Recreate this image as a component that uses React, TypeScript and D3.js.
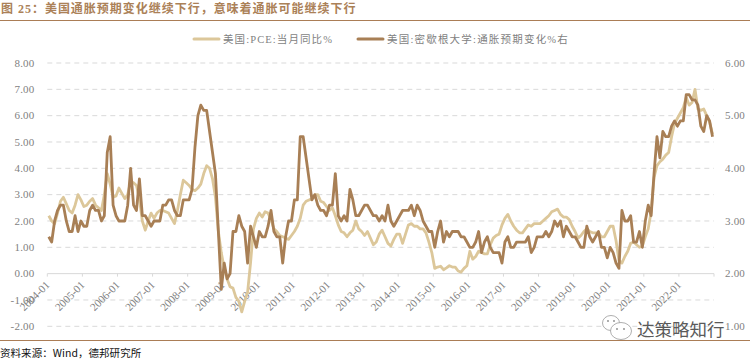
import React from "react";
import * as d3 from "d3";

const title = "图 25\uFF1A美国通胀预期变化继续下行\uFF0C意味着通胀可能继续下行";
const source = "资料来源\uFF1AWind\uFF0C德邦研究所";
const legendPce = "美国:PCE:当月同比%";
const legendMich = "美国:密歇根大学:通胀预期变化%右";
const watermark = "达策略知行";
const yearLabels = ["2004-01","2005-01","2006-01","2007-01","2008-01","2009-01","2010-01","2011-01","2012-01","2013-01","2014-01","2015-01","2016-01","2017-01","2018-01","2019-01","2020-01","2021-01","2022-01"];
const leftTicks = [8,7,6,5,4,3,2,1,0,-1,-2];
const rightTicks = [6,5,4,3,2,1];

// PCE, monthly, left axis
const pce = [
  2.2,2.0,1.9,2.3,2.75,2.9,2.65,2.4,2.3,2.6,3.0,2.8,
  2.55,2.6,2.75,2.85,2.6,2.5,2.4,3.0,3.8,3.4,2.9,2.95,
  3.25,3.05,2.85,3.0,3.5,3.45,3.35,2.85,2.0,1.65,2.0,2.3,
  2.1,2.3,2.4,2.4,2.35,2.3,2.1,1.9,2.4,3.0,3.55,3.45,
  3.35,3.2,3.15,3.25,3.4,3.8,4.1,4.0,3.6,2.9,1.6,0.8,
  0.2,-0.2,-0.5,-0.55,-0.9,-1.05,-1.45,-1.05,-0.7,0.4,1.7,2.1,
  2.3,2.15,2.35,2.3,2.05,1.7,1.6,1.45,1.4,1.35,1.3,1.45,
  1.6,1.8,2.1,2.6,2.75,2.8,2.85,3.0,3.0,2.75,2.7,2.55,
  2.4,2.5,2.2,1.85,1.6,1.55,1.4,1.55,1.65,2.0,1.7,1.6,
  1.45,1.6,1.35,1.1,1.2,1.5,1.65,1.4,1.15,1.05,1.3,1.5,
  1.5,1.15,1.5,1.85,1.9,1.8,1.8,1.7,1.7,1.55,1.2,0.8,
  0.2,0.25,0.28,0.15,0.22,0.3,0.25,0.25,0.1,0.06,0.2,0.3,
  0.85,0.55,0.65,0.85,0.8,0.75,0.75,1.1,1.35,1.45,1.5,1.85,
  2.1,2.25,2.0,1.8,1.65,1.55,1.55,1.7,1.85,1.8,1.9,1.9,
  1.9,2.0,2.1,2.2,2.35,2.4,2.45,2.25,2.15,2.15,2.05,1.8,
  1.6,1.35,1.45,1.6,1.7,1.6,1.55,1.55,1.55,1.4,1.4,1.6,
  1.8,1.8,1.25,0.5,0.4,0.65,0.85,1.15,1.2,1.1,1.0,1.05,
  1.4,1.7,2.35,3.65,4.1,4.25,4.35,4.5,4.6,5.2,5.7,5.9,
  6.1,6.3,6.7,6.4,6.5,7.0,6.25,6.2,6.25,6.0,5.75,5.3,
];

// Michigan inflation expectation change, monthly, right axis
const michigan = [
  2.7,2.6,3.0,3.2,3.3,3.3,3.0,2.8,2.8,3.1,2.8,3.0,
  2.9,2.9,3.2,3.3,3.2,3.2,3.0,3.1,4.3,4.6,3.3,3.1,
  3.0,3.0,3.0,3.3,4.0,3.3,3.2,3.8,3.1,3.1,3.0,2.9,
  3.0,3.0,3.0,3.3,3.3,3.4,3.4,3.2,3.1,3.1,3.4,3.4,
  3.4,3.6,4.4,5.0,5.2,5.1,5.1,4.7,4.3,3.9,2.8,1.7,
  2.2,1.9,2.0,2.8,2.8,3.1,2.9,2.8,2.2,2.9,2.7,2.5,
  2.8,2.7,2.7,2.9,3.2,2.8,2.7,2.7,2.2,2.7,3.0,3.0,
  3.4,3.4,4.6,4.6,4.2,3.8,3.4,3.5,3.3,3.2,3.2,3.1,
  3.3,3.3,3.9,3.1,3.0,3.1,3.0,3.6,3.4,3.1,3.1,3.2,
  3.3,3.3,3.2,3.1,3.1,3.0,3.1,3.0,3.3,3.0,2.9,3.0,
  3.1,3.2,3.2,3.2,3.3,3.1,3.3,3.2,3.0,2.9,2.8,2.8,
  2.5,2.8,3.0,2.6,2.8,2.7,2.8,2.8,2.8,2.7,2.7,2.6,
  2.5,2.5,2.6,2.8,2.4,2.6,2.7,2.5,2.4,2.4,2.4,2.2,
  2.6,2.7,2.5,2.5,2.6,2.6,2.6,2.6,2.7,2.4,2.5,2.7,
  2.7,2.7,2.8,2.7,2.8,3.0,2.9,3.0,2.7,2.9,2.8,2.7,
  2.7,2.6,2.5,2.5,2.9,2.7,2.6,2.7,2.8,2.5,2.5,2.3,
  2.5,2.4,2.2,2.1,3.2,3.0,3.0,3.1,2.6,2.6,2.8,2.5,
  3.0,3.3,3.1,3.9,4.6,4.2,4.7,4.6,4.6,4.8,4.9,4.8,
  4.9,4.9,5.4,5.4,5.3,5.3,5.2,4.8,4.7,5.0,4.9,4.6,
];

const BROWN = "#a87f55";
const TAN = "#dcc79a";
const RULE = "#ab7d56";
const GRID = "#d9d9d9";
const LABEL = "#7f7f7f";
const SERIF = "'Liberation Serif', serif";
const MIXED = "'Liberation Serif', 'Noto Sans CJK SC', serif";
const CJK = "'Noto Sans CJK SC', sans-serif";

export default function App() {
  const W = 750, H = 361;
  const plotL = 47.3, plotR = 714, plotT = 63, plotB = 326.3;
  const x = d3.scaleLinear().domain([0, pce.length]).range([plotL, plotR]);
  const yL = d3.scaleLinear().domain([-2, 8]).range([plotB, plotT]);
  const yR = d3.scaleLinear().domain([1, 6]).range([plotB, plotT]);
  const linePce = d3.line<number>().x((_, i) => x(i + 0.5)).y((d) => yL(d)).curve(d3.curveLinear);
  const lineMich = d3.line<number>().x((_, i) => x(i + 0.5)).y((d) => yR(d)).curve(d3.curveLinear);
  const y0 = yL(0);

  return (
    <svg width={W} height={H} viewBox={`0 0 ${W} ${H}`} style={{ position: "absolute", left: 0, top: 0, background: "#fff" }}>
      <text x={1} y={13} fontFamily={MIXED} fontWeight={700} fontSize={12} letterSpacing={0.98} fill="#ab8158">{title}</text>
      <line x1={0} x2={W} y1={20.5} y2={20.5} stroke={RULE} strokeWidth={1} />
      <line x1={0} x2={W} y1={340.5} y2={340.5} stroke={RULE} strokeWidth={1} />
      <text x={0} y={357} fontFamily={CJK} fontSize={10.5} letterSpacing={0.05} fill="#111">{source}</text>

      {/* legend */}
      <line x1={194} x2={219} y1={39} y2={39} stroke={TAN} strokeWidth={3} strokeLinecap="round" />
      <text x={223} y={43} fontFamily={MIXED} fontSize={10.5} letterSpacing={1.1} fill={LABEL}>{legendPce}</text>
      <line x1={358} x2={383} y1={39} y2={39} stroke={BROWN} strokeWidth={3} strokeLinecap="round" />
      <text x={387} y={43} fontFamily={MIXED} fontSize={10.5} letterSpacing={1.2} fill={LABEL}>{legendMich}</text>

      {/* grid */}
      {leftTicks.filter((t) => t !== 0).map((t) => (
        <line key={t} x1={plotL} x2={plotR} y1={yL(t)} y2={yL(t)} stroke={GRID} strokeWidth={1} strokeDasharray="5 4" />
      ))}
      <line x1={plotL} x2={plotR} y1={y0} y2={y0} stroke={GRID} strokeWidth={1} />
      {yearLabels.map((_, k) => (
        <line key={k} x1={x(k * 12)} x2={x(k * 12)} y1={y0} y2={y0 + 3} stroke={GRID} />
      ))}
      <line x1={plotR} x2={plotR} y1={y0} y2={y0 + 3} stroke={GRID} />

      {/* axis labels */}
      {leftTicks.map((t) => (
        <text key={t} x={34.5} y={yL(t) + 3.7} textAnchor="end" fontFamily={SERIF} fontSize={11} letterSpacing={0.2} fill={LABEL}>{t.toFixed(2)}</text>
      ))}
      {rightTicks.map((t) => (
        <text key={t} x={725} y={yR(t) + 3.7} fontFamily={SERIF} fontSize={11} letterSpacing={0.2} fill={LABEL}>{t.toFixed(2)}</text>
      ))}
      {yearLabels.map((l, k) => (
        <text key={l} transform={`translate(${x(k * 12) + 3},${y0 + 12}) rotate(-45)`} textAnchor="end" fontFamily={SERIF} fontSize={11} fill={LABEL}>{l}</text>
      ))}

      {/* series */}
      <path d={linePce(pce) ?? ""} fill="none" stroke={TAN} strokeWidth={2.8} strokeLinejoin="round" />
      <path d={lineMich(michigan) ?? ""} fill="none" stroke={BROWN} strokeWidth={2.8} strokeLinejoin="round" />

      {/* watermark */}
      <g fill="none" stroke="#9a9a9a" strokeWidth={0.8}>
        <ellipse cx={611} cy={323} rx={8.5} ry={7.5} fill="#fff" />
        <ellipse cx={621} cy={331} rx={10.5} ry={8.5} fill="#fff" />
        <circle cx={617} cy={329} r={0.9} fill="#888" stroke="none" />
        <circle cx={624} cy={329} r={0.9} fill="#888" stroke="none" />
        <circle cx={608} cy={321} r={0.9} fill="#888" stroke="none" />
        <circle cx={614} cy={321} r={0.9} fill="#888" stroke="none" />
      </g>
      <text x={637} y={335.5} fontFamily={CJK} fontSize={17.5} fill="#5a5a5a">{watermark}</text>
    </svg>
  );
}
